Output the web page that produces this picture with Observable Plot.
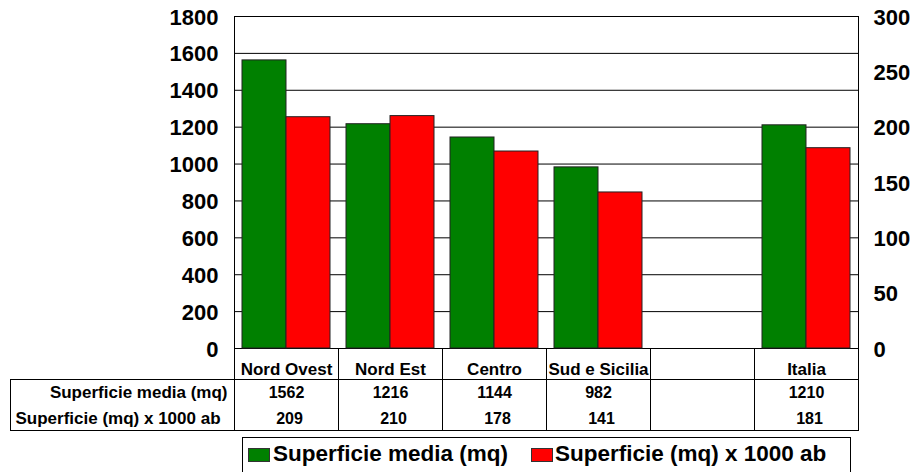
<!DOCTYPE html>
<html>
<head>
<meta charset="utf-8">
<script src="https://cdn.jsdelivr.net/npm/d3@7"></script>
<script src="https://cdn.jsdelivr.net/npm/@observablehq/plot@0.6"></script>
<style>
  html, body { margin: 0; padding: 0; background: #fff; overflow: hidden; }
  #wrap { position: relative; width: 914px; height: 472px; font-family: "Liberation Sans", Arial, sans-serif; }
  #legend { position: absolute; left: 242px; top: 437px; width: 609px; height: 40px; border: 1px solid #000; box-sizing: border-box; background: #fff; }
  .sw { position: absolute; top: 10px; width: 22px; height: 14px; box-sizing: border-box; border: 1px solid #333; }
  .lt { position: absolute; top: 5px; font-size: 22.5px; line-height: 22px; font-weight: bold; color: #000; white-space: nowrap; }
</style>
</head>
<body>
<div id="wrap"><div id="chart"></div><div id="legend"></div></div>
<script>
const categories = ["Nord Ovest", "Nord Est", "Centro", "Sud e Sicilia", " ", "Italia"];
const superficieMedia = [1562, 1216, 1144, 982, null, 1210];
const superficiePer1000 = [209, 210, 178, 141, null, 181];
const seriesNames = ["Superficie media (mq)", "Superficie (mq) x 1000 ab"];
const seriesColors = ["#008000", "#ff0000"];
const leftTicks = [0, 200, 400, 600, 800, 1000, 1200, 1400, 1600, 1800];
const rightTicks = [0, 50, 100, 150, 200, 250, 300];

const k = d3.max(leftTicks) / d3.max(rightTicks);

const bars = categories.flatMap((c, i) => [
  {cat: c, series: seriesNames[0], value: superficieMedia[i]},
  {cat: c, series: seriesNames[1], value: superficiePer1000[i] == null ? null : superficiePer1000[i] * k}
]).filter(d => d.value != null);

const rowsA = categories.map((c, i) => ({cat: c, v: superficieMedia[i]}));
const rowsB = categories.map((c, i) => ({cat: c, v: superficiePer1000[i]}));
const fmt = d => d.v == null ? "" : String(d.v);

const chart = Plot.plot({
  width: 914,
  height: 437,
  marginLeft: 234,
  marginRight: 56,
  marginTop: 16,
  marginBottom: 89,
  style: {fontFamily: "'Liberation Sans', Arial, sans-serif", fontWeight: "bold", color: "#000", background: "#fff"},
  fx: {domain: categories, padding: 0, label: null},
  x: {domain: seriesNames, paddingInner: 0, paddingOuter: 0.17, axis: null},
  y: {domain: [0, d3.max(leftTicks)], label: null},
  color: {domain: seriesNames, range: seriesColors},
  marks: [
    Plot.gridY(leftTicks, {stroke: "#000", strokeOpacity: 1}),
    Plot.barY(bars, {fx: "cat", x: "series", y: "value", fill: "series", stroke: "#222", strokeWidth: 1}),
    Plot.frame({anchor: "left", facetAnchor: "left", insetBottom: -82}),
    Plot.frame({anchor: "right", facetAnchor: "right", insetBottom: -82}),
    Plot.frame({anchor: "left", insetTop: 332, insetBottom: -82}),
    Plot.frame({anchor: "top", insetTop: 363, insetBottom: -82}),
    Plot.frame({anchor: "bottom", insetBottom: -82}),
    Plot.frame({facetAnchor: "left", insetLeft: -224, insetRight: 104, insetTop: 363, insetBottom: -82}),
    Plot.axisY({anchor: "left", ticks: leftTicks, tickFormat: d => String(d), tickSize: 0, tickPadding: 16, fontSize: 22, dy: 1, label: null}),
    Plot.axisY({anchor: "right", ticks: rightTicks.map(v => v * k), tickFormat: d => String(Math.round(d / k)), tickSize: 0, tickPadding: 15, fontSize: 22, dy: 1, label: null}),
    Plot.axisFx({anchor: "bottom", tickSize: 0, tickPadding: 14, fontSize: 17, label: null}),
    Plot.text(rowsA, {fx: "cat", text: fmt, frameAnchor: "bottom", lineAnchor: "bottom", dy: 49, fontSize: 16}),
    Plot.text(rowsB, {fx: "cat", text: fmt, frameAnchor: "bottom", lineAnchor: "bottom", dy: 75, dx: 3, fontSize: 16}),
    Plot.text([seriesNames[0]], {text: d => d, facetAnchor: "left", frameAnchor: "bottom-left", textAnchor: "end", lineAnchor: "bottom", dx: -7, dy: 49, fontSize: 17}),
    Plot.text([seriesNames[1]], {text: d => d, facetAnchor: "left", frameAnchor: "bottom-left", textAnchor: "start", lineAnchor: "bottom", dx: -219, dy: 75, fontSize: 17})
  ]
});
document.getElementById("chart").appendChild(chart);

const legend = document.getElementById("legend");
const swLeft = [5, 288];
const txtLeft = [30, 312];
seriesNames.forEach((name, i) => {
  const sw = document.createElement("div");
  sw.className = "sw";
  sw.style.left = swLeft[i] + "px";
  sw.style.background = seriesColors[i];
  legend.appendChild(sw);
  const t = document.createElement("div");
  t.className = "lt";
  t.style.left = txtLeft[i] + "px";
  t.textContent = name;
  legend.appendChild(t);
});
</script>
</body>
</html>
